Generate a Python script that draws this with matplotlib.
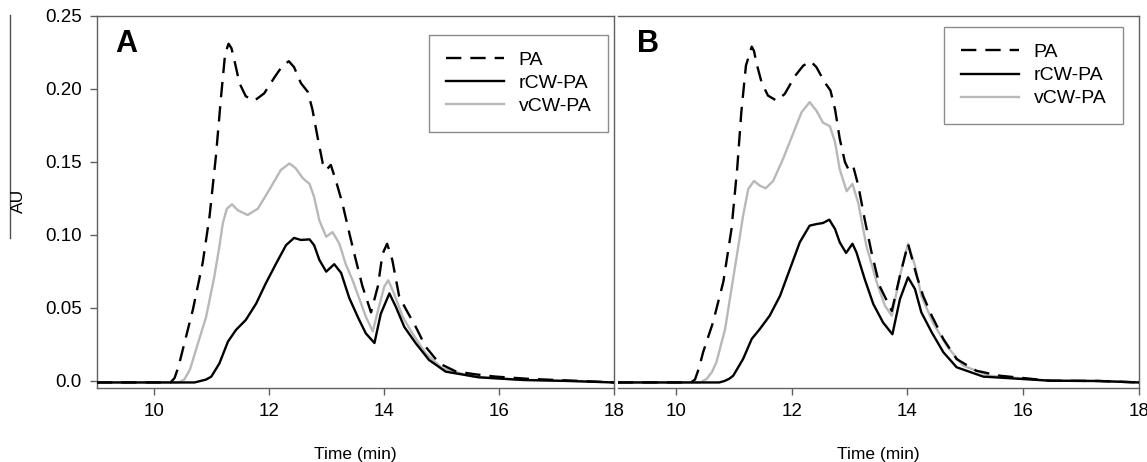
import matplotlib
matplotlib.use("Agg")
import matplotlib.pyplot as plt
from matplotlib.lines import Line2D

plt.rcParams.update({
    "font.family": ["Liberation Sans", "DejaVu Sans"],
    "font.size": 13,
})

# ── data (time in min, absorbance in AU) ──
# panel A
a_pa_t = [9.0, 10.28, 10.35, 10.42, 10.49, 10.67, 10.84, 10.96, 11.07, 11.16, 11.23, 11.29,
          11.34, 11.39, 11.48, 11.59, 11.74, 11.91, 12.09, 12.23, 12.34, 12.43, 12.55,
          12.67, 12.75, 12.84, 12.93, 12.99, 13.07, 13.16, 13.27, 13.40, 13.48, 13.62,
          13.77, 13.89, 13.97, 14.05, 14.14, 14.26, 14.38, 14.55, 14.72, 14.96, 15.25,
          15.6, 15.94, 16.5, 17.4, 18.0]
a_pa_v = [-0.001, -0.001, 0.002, 0.010, 0.021, 0.049, 0.081, 0.113, 0.154, 0.195, 0.224,
          0.231, 0.228, 0.220, 0.204, 0.195, 0.192, 0.197, 0.208, 0.216, 0.219, 0.215,
          0.204, 0.198, 0.186, 0.167, 0.149, 0.1445, 0.148, 0.137, 0.122, 0.100, 0.087,
          0.065, 0.047, 0.065, 0.087, 0.094, 0.083, 0.058, 0.049, 0.037, 0.0235, 0.012,
          0.0065, 0.0045, 0.003, 0.0015, 0.0, -0.001]

a_r_t = [9.0, 10.7, 10.8, 10.9, 10.99, 11.13, 11.28, 11.42, 11.59, 11.77, 11.94, 12.12,
         12.29, 12.43, 12.55, 12.70, 12.78, 12.87, 12.99, 13.13, 13.25, 13.39, 13.55,
         13.68, 13.83, 13.94, 14.09, 14.20, 14.35, 14.55, 14.78, 15.07, 15.65, 16.41,
         17.2, 18.0]
a_r_v = [-0.001, -0.001, 0.0, 0.001, 0.003, 0.012, 0.027, 0.035, 0.0418, 0.053, 0.067,
         0.0806, 0.093, 0.098, 0.0966, 0.097, 0.093, 0.083, 0.0749, 0.080, 0.074, 0.057,
         0.043, 0.0326, 0.026, 0.046, 0.060, 0.051, 0.037, 0.0258, 0.0144, 0.0064,
         0.0025, 0.0007, 0.0, -0.001]

a_v_t = [9.0, 10.42, 10.52, 10.62, 10.72, 10.90, 11.04, 11.13, 11.19, 11.26, 11.35, 11.45,
         11.62, 11.80, 12.0, 12.20, 12.35, 12.46, 12.58, 12.70, 12.78, 12.87, 12.99,
         13.10, 13.22, 13.33, 13.45, 13.68, 13.80, 13.91, 14.0, 14.07, 14.17, 14.32,
         14.49, 14.72, 15.01, 15.54, 16.41, 17.4, 18.0]
a_v_v = [-0.001, -0.001, 0.001, 0.008, 0.021, 0.044, 0.071, 0.092, 0.108, 0.118, 0.121,
         0.117, 0.1137, 0.118, 0.131, 0.1445, 0.149, 0.1457, 0.139, 0.135, 0.126, 0.110,
         0.0988, 0.102, 0.094, 0.080, 0.069, 0.044, 0.034, 0.051, 0.0646, 0.069, 0.060,
         0.044, 0.0326, 0.019, 0.0087, 0.003, 0.0007, 0.0, -0.001]

# panel B
b_pa_t = [9.0, 10.26, 10.33, 10.40, 10.47, 10.64, 10.82, 10.96, 11.06, 11.13, 11.21,
          11.31, 11.35, 11.39, 11.48, 11.59, 11.74, 11.88, 12.06, 12.20, 12.33, 12.43,
          12.57, 12.67, 12.75, 12.83, 12.92, 12.98, 13.06, 13.15, 13.26, 13.38, 13.52,
          13.73, 13.87, 14.01, 14.16, 14.27, 14.42, 14.62, 14.85, 15.19, 15.60, 16.46,
          17.3, 18.0]
b_pa_v = [-0.001, -0.001, 0.001, 0.009, 0.0197, 0.040, 0.068, 0.104, 0.146, 0.184, 0.216,
          0.229, 0.226, 0.218, 0.2046, 0.1955, 0.192, 0.1966, 0.209, 0.216, 0.219, 0.2148,
          0.2046, 0.199, 0.186, 0.166, 0.150, 0.145, 0.1475, 0.134, 0.111, 0.088, 0.065,
          0.048, 0.072, 0.094, 0.072, 0.0584, 0.0447, 0.0288, 0.015, 0.007, 0.0036,
          0.0002, 0.0, -0.001]

b_r_t = [9.0, 10.75, 10.84, 10.92, 10.99, 11.16, 11.31, 11.45, 11.62, 11.80, 11.97,
         12.14, 12.31, 12.43, 12.54, 12.65, 12.75, 12.83, 12.94, 13.05, 13.12, 13.26,
         13.41, 13.58, 13.74, 13.87, 14.01, 14.13, 14.24, 14.42, 14.62, 14.85, 15.31,
         16.46, 17.3, 18.0]
b_r_v = [-0.001, -0.001, 0.0, 0.0015, 0.0036, 0.015, 0.0288, 0.0356, 0.0447, 0.0584,
         0.0767, 0.095, 0.1064, 0.1075, 0.1082, 0.1105, 0.104, 0.095, 0.0877, 0.094,
         0.088, 0.070, 0.0527, 0.040, 0.032, 0.056, 0.071, 0.063, 0.047, 0.0333, 0.0197,
         0.0094, 0.003, 0.0002, 0.0, -0.001]

b_v_t = [9.0, 10.42, 10.53, 10.62, 10.70, 10.85, 10.96, 11.08, 11.16, 11.25, 11.35,
         11.45, 11.55, 11.68, 11.85, 12.03, 12.17, 12.31, 12.43, 12.54, 12.66, 12.75,
         12.83, 12.95, 13.05, 13.15, 13.29, 13.47, 13.61, 13.73, 13.87, 14.01, 14.13,
         14.24, 14.44, 14.68, 14.96, 15.42, 16.46, 17.3, 18.0]
b_v_v = [-0.001, -0.001, 0.0014, 0.006, 0.0128, 0.0356, 0.063, 0.0927, 0.113, 0.1315,
         0.137, 0.1338, 0.132, 0.137, 0.152, 0.170, 0.184, 0.191, 0.185, 0.177, 0.1745,
         0.1635, 0.145, 0.130, 0.135, 0.122, 0.0927, 0.0676, 0.0516, 0.0447, 0.072,
         0.094, 0.079, 0.0584, 0.040, 0.024, 0.0105, 0.0036, 0.0002, 0.0, -0.001]

labels = ["PA", "rCW-PA", "vCW-PA"]
xticks = [10, 12, 14, 16, 18]
yticks = [0.0, 0.05, 0.10, 0.15, 0.20, 0.25]
ytick_labels = ["0.0", "0.05", "0.10", "0.15", "0.20", "0.25"]

GRAY = "#b8b8b8"
SPINE = "#606060"

fig = plt.figure(figsize=(11.47, 4.62), dpi=100)
ax_a = fig.add_axes([97 / 1147, 1 - 388 / 462, 517 / 1147, 372 / 462])
ax_b = fig.add_axes([618 / 1147, 1 - 388 / 462, 521 / 1147, 372 / 462])


def draw(ax, pa, r, v, letter, leg_anchor):
    kw = dict(lw=1.7, solid_joinstyle="round", dash_joinstyle="round")
    ax.plot(v[0], v[1], color=GRAY, label=labels[2], zorder=2, **kw)
    ax.plot(r[0], r[1], color="black", label=labels[1], zorder=3, **kw)
    ax.plot(pa[0], pa[1], color="black", dashes=(6.5, 3.8), label=labels[0], zorder=4, **kw)
    ax.set_xlim(9, 18)
    ax.set_ylim(-0.0048, 0.25)
    ax.set_xticks(xticks)
    ax.tick_params(direction="out", length=5, width=1, color=SPINE, labelsize=13.5, pad=6)
    for s in ax.spines.values():
        s.set_color(SPINE)
        s.set_linewidth(1)
    ax.set_xlabel("Time (min)", fontsize=12.5, labelpad=19)
    ax.text(0.036, 0.903, letter, transform=ax.transAxes, fontsize=22,
            fontweight="bold", va="baseline")
    h, l = ax.get_legend_handles_labels()
    order = [2, 1, 0]
    leg = ax.legend([h[i] for i in order], [l[i] for i in order], loc="upper right",
                    bbox_to_anchor=leg_anchor, borderaxespad=0, fancybox=False,
                    fontsize=14, handlelength=3.0, handletextpad=0.75,
                    labelspacing=0.28, borderpad=0.85)
    leg.get_frame().set_edgecolor("#707070")
    leg.get_frame().set_linewidth(1)


draw(ax_a, (a_pa_t, a_pa_v), (a_r_t, a_r_v), (a_v_t, a_v_v), "A", (0.988, 0.949))
draw(ax_b, (b_pa_t, b_pa_v), (b_r_t, b_r_v), (b_v_t, b_v_v), "B", (0.969, 0.970))

ax_a.set_yticks(yticks)
ax_a.set_yticklabels(ytick_labels)
ax_b.set_yticks([])
ax_b.spines["left"].set_visible(False)

# stray y label with its rule
fig.text(18 / 1147, 1 - 201 / 462, "AU", rotation=90, fontsize=12.5,
         ha="center", va="center")
fig.add_artist(Line2D([10 / 1147, 10 / 1147], [1 - 15 / 462, 1 - 238 / 462],
                      transform=fig.transFigure, color="#505050", lw=1))

fig.savefig("out.png", dpi=100)
